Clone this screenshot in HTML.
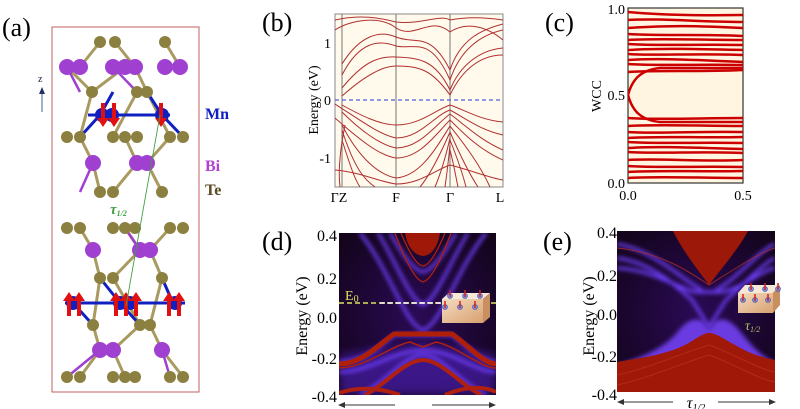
<!DOCTYPE html>
<html><head><meta charset="utf-8">
<style>
html,body{margin:0;padding:0;background:#fff;}
svg{display:block;font-family:"Liberation Serif",serif;}
</style></head><body>
<svg width="800" height="409" viewBox="0 0 800 409" xmlns="http://www.w3.org/2000/svg">
<defs>
<filter id="glow" filterUnits="userSpaceOnUse" x="300" y="200" width="500" height="209"><feGaussianBlur stdDeviation="2.2"/></filter>
<filter id="glow2" filterUnits="userSpaceOnUse" x="300" y="200" width="500" height="209"><feGaussianBlur stdDeviation="5"/></filter>
<radialGradient id="bgd" cx="0.5" cy="0.5" r="0.7"><stop offset="0" stop-color="#2a0a55"/><stop offset="1" stop-color="#120418"/></radialGradient>
<linearGradient id="box" x1="0" y1="0" x2="1" y2="1"><stop offset="0" stop-color="#f4dcc0"/><stop offset="1" stop-color="#d8a070"/></linearGradient>
<clipPath id="cd"><rect x="339" y="233" width="157" height="162"/></clipPath>
<clipPath id="ce"><rect x="617" y="231" width="158" height="161"/></clipPath>
<clipPath id="cb"><rect x="335" y="14" width="168" height="173"/></clipPath>
<clipPath id="cc"><rect x="628" y="8" width="115" height="175"/></clipPath>
</defs>

<!-- ============ (a) ============ -->
<text x="2" y="36" font-size="26">(a)</text>
<rect x="52" y="27" width="147" height="365" fill="#fff" stroke="#c06060" stroke-width="1"/>
<text x="38" y="82" font-size="10" fill="#224">z</text>
<line x1="42" y1="112" x2="42" y2="92" stroke="#6080a0" stroke-width="1.2"/>
<polygon points="39,94 45,94 42,87" fill="#203060"/>
<g stroke="#a09050" stroke-width="3" opacity="0.9">
<line x1="100" y1="42" x2="80" y2="67"/><line x1="115" y1="42" x2="135" y2="67"/><line x1="165" y1="42" x2="180" y2="67"/>
<line x1="67" y1="67" x2="92" y2="92"/><line x1="125" y1="67" x2="92" y2="92"/><line x1="135" y1="67" x2="147" y2="92"/>
<line x1="92" y1="92" x2="80" y2="137"/><line x1="147" y1="92" x2="170" y2="137"/><line x1="137" y1="92" x2="113" y2="137"/>
<line x1="80" y1="137" x2="93" y2="163"/><line x1="125" y1="137" x2="137" y2="163"/><line x1="170" y1="137" x2="147" y2="163"/>
<line x1="93" y1="163" x2="100" y2="192"/><line x1="147" y1="163" x2="162" y2="192"/><line x1="137" y1="163" x2="113" y2="192"/>
<line x1="80" y1="228" x2="93" y2="250"/><line x1="125" y1="228" x2="140" y2="250"/><line x1="170" y1="228" x2="150" y2="250"/>
<line x1="93" y1="250" x2="100" y2="278"/><line x1="150" y1="250" x2="162" y2="278"/><line x1="140" y1="250" x2="113" y2="278"/>
<line x1="100" y1="278" x2="93" y2="325"/><line x1="162" y1="278" x2="150" y2="325"/><line x1="113" y1="278" x2="140" y2="325"/>
<line x1="93" y1="325" x2="100" y2="350"/><line x1="150" y1="325" x2="162" y2="350"/><line x1="140" y1="325" x2="113" y2="350"/>
<line x1="100" y1="350" x2="80" y2="377"/><line x1="113" y1="350" x2="125" y2="377"/><line x1="162" y1="350" x2="183" y2="377"/>
</g>
<g stroke="#a040d0" stroke-width="2.5">
<line x1="67" y1="67" x2="80" y2="92"/><line x1="113" y1="67" x2="137" y2="92"/><line x1="93" y1="163" x2="80" y2="192"/>
<line x1="140" y1="250" x2="125" y2="228"/><line x1="100" y1="350" x2="67" y2="377"/><line x1="162" y1="350" x2="170" y2="377"/>
</g>
<g stroke="#1020c0" stroke-width="3">
<line x1="88" y1="115" x2="170" y2="115"/><line x1="65" y1="303" x2="185" y2="303"/>
<line x1="100" y1="115" x2="80" y2="137"/><line x1="100" y1="115" x2="113" y2="92"/><line x1="162" y1="115" x2="183" y2="137"/><line x1="162" y1="115" x2="147" y2="92"/>
<line x1="73" y1="303" x2="93" y2="325"/><line x1="120" y1="303" x2="140" y2="325"/><line x1="173" y1="303" x2="162" y2="278"/><line x1="120" y1="303" x2="100" y2="278"/>
</g>
<g fill="#8c8040">
<circle cx="100" cy="42" r="6"/><circle cx="115" cy="42" r="6"/><circle cx="165" cy="42" r="6"/>
<circle cx="92" cy="92" r="6"/><circle cx="137" cy="92" r="6"/><circle cx="147" cy="92" r="6"/>
<circle cx="67" cy="137" r="6"/><circle cx="80" cy="137" r="6"/><circle cx="113" cy="137" r="6"/><circle cx="125" cy="137" r="6"/><circle cx="137" cy="137" r="6"/><circle cx="170" cy="137" r="6"/><circle cx="183" cy="137" r="6"/>
<circle cx="100" cy="192" r="6"/><circle cx="113" cy="192" r="6"/><circle cx="162" cy="192" r="6"/>
<circle cx="67" cy="228" r="6"/><circle cx="80" cy="228" r="6"/><circle cx="113" cy="228" r="6"/><circle cx="125" cy="228" r="6"/><circle cx="135" cy="228" r="6"/><circle cx="170" cy="228" r="6"/><circle cx="183" cy="228" r="6"/>
<circle cx="100" cy="278" r="6"/><circle cx="113" cy="278" r="6"/><circle cx="162" cy="278" r="6"/>
<circle cx="93" cy="325" r="6"/><circle cx="140" cy="325" r="6"/><circle cx="150" cy="325" r="6"/>
<circle cx="67" cy="377" r="6"/><circle cx="80" cy="377" r="6"/><circle cx="113" cy="377" r="6"/><circle cx="125" cy="377" r="6"/><circle cx="135" cy="377" r="6"/><circle cx="170" cy="377" r="6"/><circle cx="183" cy="377" r="6"/>
</g>
<g fill="#a040d0">
<circle cx="67" cy="67" r="8"/><circle cx="80" cy="67" r="8"/><circle cx="113" cy="67" r="8"/><circle cx="125" cy="67" r="8"/><circle cx="135" cy="67" r="8"/><circle cx="165" cy="67" r="8"/><circle cx="180" cy="67" r="8"/>
<circle cx="93" cy="163" r="8"/><circle cx="137" cy="163" r="8"/><circle cx="147" cy="163" r="8"/>
<circle cx="93" cy="250" r="8"/><circle cx="140" cy="250" r="8"/><circle cx="150" cy="250" r="8"/>
<circle cx="100" cy="350" r="8"/><circle cx="113" cy="350" r="8"/><circle cx="162" cy="350" r="8"/>
</g>
<g fill="#1020c0">
<circle cx="102" cy="115" r="7"/><circle cx="112" cy="115" r="7"/><circle cx="162" cy="115" r="7"/>
<circle cx="73" cy="303" r="7"/><circle cx="120" cy="303" r="7"/><circle cx="130" cy="303" r="7"/><circle cx="175" cy="303" r="7"/>
</g>
<g fill="#e01010">
<path d="M101,103h4v15h4l-6,9l-6,-9h4z"/><path d="M112,103h4v15h4l-6,9l-6,-9h4z"/><path d="M159,103h4v15h4l-6,9l-6,-9h4z"/>
<path d="M67,316h4v-15h4l-6,-9l-6,9h4z"/><path d="M77,316h4v-15h4l-6,-9l-6,9h4z"/><path d="M114,316h4v-15h4l-6,-9l-6,9h4z"/><path d="M124,316h4v-15h4l-6,-9l-6,9h4z"/><path d="M134,316h4v-15h4l-6,-9l-6,9h4z"/><path d="M167,316h4v-15h4l-6,-9l-6,9h4z"/><path d="M177,316h4v-15h4l-6,-9l-6,9h4z"/>
</g>
<line x1="160" y1="115" x2="126" y2="306" stroke="#40a040" stroke-width="0.9"/>
<text x="110" y="214" font-size="15" font-style="italic" font-weight="bold" fill="#40a040">τ<tspan font-size="8" dy="2">1/2</tspan></text>
<text x="205" y="119" font-size="16" font-weight="bold" fill="#1020c0">Mn</text>
<text x="205" y="171" font-size="16" font-weight="bold" fill="#b040d0">Bi</text>
<text x="205" y="195" font-size="16" font-weight="bold" fill="#5a4a20">Te</text>

<!-- ============ (b) ============ -->
<text x="262" y="31" font-size="26">(b)</text>
<rect x="335" y="14" width="168" height="173" fill="#fffaec" stroke="#888" stroke-width="1"/>
<g stroke="#777" stroke-width="1"><line x1="342" y1="14" x2="342" y2="187"/><line x1="396" y1="14" x2="396" y2="187"/><line x1="450" y1="14" x2="450" y2="187"/></g>
<line x1="335" y1="100" x2="503" y2="100" stroke="#5060e0" stroke-width="1.2" stroke-dasharray="4,3"/>
<g clip-path="url(#cb)" fill="none" stroke="#b03030" stroke-width="1">
<path d="M342,96 C360,80 380,66 396,66 C420,66 432,70 450,95 C462,70 480,55 503,55"/>
<path d="M342,88 C365,60 380,56 396,57 C420,58 435,60 450,90 C460,65 480,50 503,48"/>
<path d="M342,75 C360,40 380,40 396,46 C415,50 430,35 450,80 C460,50 480,35 503,30"/>
<path d="M342,64 C360,35 380,30 396,37 C415,45 430,30 450,70 C460,40 480,30 503,24"/>
<path d="M335,30 C350,20 380,15 396,28 C415,40 430,15 450,32 C465,22 485,25 503,40"/>
<path d="M335,20 C360,14 380,18 396,22 C420,25 440,14 450,20 C470,16 490,18 503,20"/>
<path d="M342,105 C360,115 380,125 396,125 C420,125 435,110 450,105 C465,110 480,120 503,122"/>
<path d="M335,104 C360,120 380,135 396,138 C420,138 435,115 450,110 C465,118 480,130 503,135"/>
<path d="M342,112 C360,130 380,145 396,148 C420,148 435,125 450,114 C465,125 480,140 503,150"/>
<path d="M335,118 C360,140 380,156 396,158 C420,158 435,135 450,120 C465,135 480,150 503,160"/>
<path d="M342,125 C360,160 380,175 396,178 C420,176 435,150 450,126 C465,145 480,165 490,187"/>
<path d="M342,130 C355,170 365,180 375,187"/><path d="M342,140 C350,165 355,180 360,187"/><path d="M345,125 C340,150 338,170 340,187"/>
<path d="M450,132 C440,155 430,175 420,187"/><path d="M450,138 C445,160 440,175 435,187"/><path d="M450,145 C448,165 446,180 445,187"/>
<path d="M450,132 C460,155 470,175 478,187"/><path d="M450,140 C458,160 463,175 466,187"/><path d="M450,150 C454,165 456,178 458,187"/>
<path d="M335,170 C360,172 380,182 396,184"/><path d="M396,184 C420,184 435,170 450,165 C470,170 490,178 503,180"/>
</g>
<g font-size="14" text-anchor="end"><text x="331" y="48">1</text><text x="331" y="105">0</text><text x="331" y="163">-1</text></g>
<text transform="translate(318,100) rotate(-90)" font-size="14" text-anchor="middle">Energy (eV)</text>
<g font-size="14" text-anchor="middle"><text x="339" y="202">ΓZ</text><text x="396" y="202">F</text><text x="450" y="202">Γ</text><text x="500" y="202">L</text></g>

<!-- ============ (c) ============ -->
<text x="545" y="31" font-size="26">(c)</text>
<rect x="628" y="8" width="115" height="175" fill="#fff5e0" stroke="#333" stroke-width="1.2"/>
<g clip-path="url(#cc)" fill="none" stroke="#cc0000" stroke-width="2.5">
<path d="M628,95 C632,80 640,70 660,68 L743,68"/><path d="M628,95 C632,110 640,120 660,122 L743,122"/>
<path d="M628,12 C650,14 680,16 743,15"/><path d="M628,20 C660,18 700,22 743,22"/><path d="M628,28 C670,25 700,26 743,28"/>
<path d="M628,34 C660,36 700,34 743,36"/><path d="M628,40 C660,38 700,40 743,40"/><path d="M628,44 C660,46 700,44 743,45"/>
<path d="M628,50 C660,48 700,49 743,50"/><path d="M628,54 C650,56 700,53 743,55"/><path d="M628,60 C660,58 700,60 743,62"/>
<path d="M628,64 C660,66 700,64 743,65"/><path d="M628,72 C660,70 700,72 743,70"/>
<path d="M628,118 C660,120 700,118 743,118"/><path d="M628,126 C660,124 700,126 743,126"/><path d="M628,132 C660,134 700,131 743,132"/>
<path d="M628,138 C660,136 700,138 743,137"/><path d="M628,142 C660,144 700,142 743,143"/><path d="M628,148 C660,146 700,148 743,149"/>
<path d="M628,152 C660,154 700,151 743,153"/><path d="M628,160 C660,158 700,162 743,160"/><path d="M628,166 C660,168 700,166 743,167"/>
<path d="M628,172 C660,170 700,172 743,171"/><path d="M628,178 C660,176 700,178 743,178"/>
</g>
<g font-size="14" text-anchor="end"><text x="625" y="14">1.0</text><text x="625" y="100">0.5</text><text x="625" y="188">0.0</text></g>
<text transform="translate(601,96) rotate(-90)" font-size="14" text-anchor="middle">WCC</text>
<g font-size="14" text-anchor="middle"><text x="628" y="200">0.0</text><text x="743" y="200">0.5</text></g>

<!-- ============ (d) ============ -->
<text x="262" y="250" font-size="26">(d)</text>
<rect x="339" y="233" width="157" height="162" fill="url(#bgd)"/>
<g clip-path="url(#cd)">
<g filter="url(#glow2)" fill="#5020c0" opacity="0.6"><path d="M339,355 C380,350 400,345 423,345 C446,345 466,350 496,355 L496,395 L339,395 Z"/></g>
<g filter="url(#glow)" fill="none" stroke="#7040ff" stroke-width="3">
<path d="M360,233 C390,270 405,325 423,330 C441,325 456,270 486,233"/>
<path d="M378,233 C395,260 410,300 423,305 C436,300 451,260 468,233"/>
<path d="M390,233 C400,250 412,270 423,272 C434,270 446,250 456,233"/>
<path d="M339,362 C365,362 380,345 395,335 L451,335 C466,345 481,362 496,362"/>
<path d="M339,372 C370,372 395,350 423,350 C451,350 476,372 496,372"/>
<path d="M360,395 C390,380 405,355 423,355 C441,355 456,380 486,395"/>
</g>
<path d="M405,233 L440,233 C438,245 433,255 423,256 C413,255 407,245 405,233Z" fill="#a01808"/>
<g fill="none" stroke="#b02010" stroke-width="1.3">
<path d="M395,233 C405,260 415,280 423,282 C431,280 441,260 451,233"/>
<path d="M401,233 C408,250 416,265 423,266 C430,265 438,250 445,233"/>
</g>
<path d="M339,364 C362,364 378,345 394,334 L452,334 C468,345 484,364 496,364" fill="none" stroke="#b02008" stroke-width="5"/>
<path d="M339,368 C365,368 390,346 410,342 L423,347 L436,342 C456,346 481,368 496,368" fill="none" stroke="#b02010" stroke-width="1.5"/>
<path d="M365,395 C385,385 405,360 423,360 C441,360 461,385 481,395" fill="none" stroke="#b02010" stroke-width="4"/>
<path d="M339,393 C360,386 380,388 400,395 M445,395 C465,386 485,386 496,392" stroke="#b02010" stroke-width="4" fill="none"/>
</g>
<line x1="339" y1="303" x2="496" y2="303" stroke="#e0e060" stroke-width="1.5" stroke-dasharray="5,3"/>
<line x1="380" y1="303" x2="445" y2="303" stroke="#ffffff" stroke-width="1.5" stroke-dasharray="5,3"/>
<text x="345" y="300" font-size="14" fill="#e0e060">E<tspan font-size="10" dy="2">0</tspan></text>
<g>
<polygon points="442,299 483,299 490,293 449,293" fill="#f6e8d8"/>
<polygon points="442,299 442,323 483,323 483,299" fill="url(#box)"/>
<polygon points="483,299 490,293 490,317 483,323" fill="#c89060"/>
<g fill="#8090e0" stroke="#4050a0" stroke-width="0.6"><circle cx="450" cy="296" r="2.5"/><circle cx="465" cy="296" r="2.5"/><circle cx="480" cy="296" r="2.5"/><circle cx="445" cy="307" r="2.5"/><circle cx="460" cy="307" r="2.5"/><circle cx="475" cy="307" r="2.5"/></g>
<g stroke="#d02020" stroke-width="1.5"><line x1="450" y1="297" x2="450" y2="290"/><line x1="465" y1="297" x2="465" y2="290"/><line x1="480" y1="297" x2="480" y2="290"/><line x1="445" y1="308" x2="445" y2="301"/><line x1="460" y1="308" x2="460" y2="301"/><line x1="475" y1="308" x2="475" y2="301"/></g>
</g>
<g font-size="16" text-anchor="end"><text x="337" y="241">0.4</text><text x="337" y="284">0.2</text><text x="337" y="323">0.0</text><text x="337" y="364">-0.2</text><text x="337" y="402">-0.4</text></g>
<text transform="translate(307,316) rotate(-90)" font-size="16" text-anchor="middle">Energy (eV)</text>
<g stroke="#333" stroke-width="1"><line x1="341" y1="405" x2="395" y2="405"/><line x1="432" y1="405" x2="492" y2="405"/></g>
<polygon points="338,405 345,402 345,408" fill="#333"/><polygon points="496,405 489,402 489,408" fill="#333"/>

<!-- ============ (e) ============ -->
<text x="543" y="250" font-size="26">(e)</text>
<rect x="617" y="231" width="158" height="161" fill="url(#bgd)"/>
<g clip-path="url(#ce)">
<path d="M617,365 C640,358 660,350 675,335 C685,322 692,318 700,320 C705,322 707,327 709,330 C711,327 713,322 718,320 C726,318 733,322 743,335 C755,350 765,358 775,362 L775,392 L617,392 Z" fill="#6a3ae0" filter="url(#glow)"/>
<path d="M617,392 L617,362 C640,358 665,355 685,345 C698,338 703,333 709,333 C716,333 722,338 735,345 C752,355 765,358 775,360 L775,392 Z" fill="#a01808"/>
<g fill="none" stroke="#c03020" stroke-width="1" opacity="0.7"><path d="M617,375 C650,368 690,350 709,345 C730,352 760,370 775,372"/><path d="M617,385 C650,378 690,360 709,355 C730,362 760,380 775,382"/></g>
<g filter="url(#glow)" fill="none" stroke="#7040ff" stroke-width="3">
<path d="M617,258 C650,262 675,285 692,300 L709,327 L726,300 C743,285 765,262 775,258"/>
<path d="M617,268 C655,270 680,290 697,292 L721,292 C740,290 762,270 775,268"/>
<path d="M617,244 C655,250 685,282 702,290 M716,290 C733,282 760,250 775,244"/>
</g>
<path d="M673,231 L748,231 C738,250 720,270 709,285 C698,270 682,250 673,231 Z" fill="#9c1808"/>
<g fill="none" stroke="#c03020" stroke-width="1" opacity="0.7"><path d="M617,248 C660,252 690,272 709,285 C730,272 760,252 775,248"/></g>
</g>
<g>
<polygon points="738,293 773,293 780,285 745,285" fill="#f6e8d8"/>
<polygon points="738,293 738,313 773,313 773,293" fill="url(#box)"/>
<polygon points="773,293 780,285 780,305 773,313" fill="#c89060"/>
<g fill="#8090e0" stroke="#4050a0" stroke-width="0.6"><circle cx="751" cy="289" r="2.5"/><circle cx="765" cy="289" r="2.5"/><circle cx="778" cy="289" r="2.5"/><circle cx="743" cy="300" r="2.5"/><circle cx="755" cy="300" r="2.5"/><circle cx="768" cy="300" r="2.5"/></g>
<g stroke="#d02020" stroke-width="1.5"><line x1="751" y1="290" x2="751" y2="283"/><line x1="765" y1="290" x2="765" y2="283"/><line x1="778" y1="290" x2="778" y2="283"/><line x1="743" y1="301" x2="743" y2="294"/><line x1="755" y1="301" x2="755" y2="294"/><line x1="768" y1="301" x2="768" y2="294"/></g>
</g>
<text x="745" y="330" font-size="14" font-style="italic" fill="#b0c060">τ<tspan font-size="8" dy="2">1/2</tspan></text>
<g font-size="16" text-anchor="end"><text x="617" y="238">0.4</text><text x="617" y="281">0.2</text><text x="617" y="320">0.0</text><text x="617" y="362">-0.2</text><text x="617" y="400">-0.4</text></g>
<text transform="translate(594,316) rotate(-90)" font-size="16" text-anchor="middle">Energy (eV)</text>
<g stroke="#333" stroke-width="1"><line x1="620" y1="402" x2="673" y2="402"/><line x1="718" y1="402" x2="772" y2="402"/></g>
<polygon points="617,402 624,399 624,405" fill="#333"/><polygon points="776,402 769,399 769,405" fill="#333"/>
<text x="696" y="408" font-size="16" font-style="italic" text-anchor="middle">τ<tspan font-size="10" dy="3">1/2</tspan></text>
</svg>
</body></html>
